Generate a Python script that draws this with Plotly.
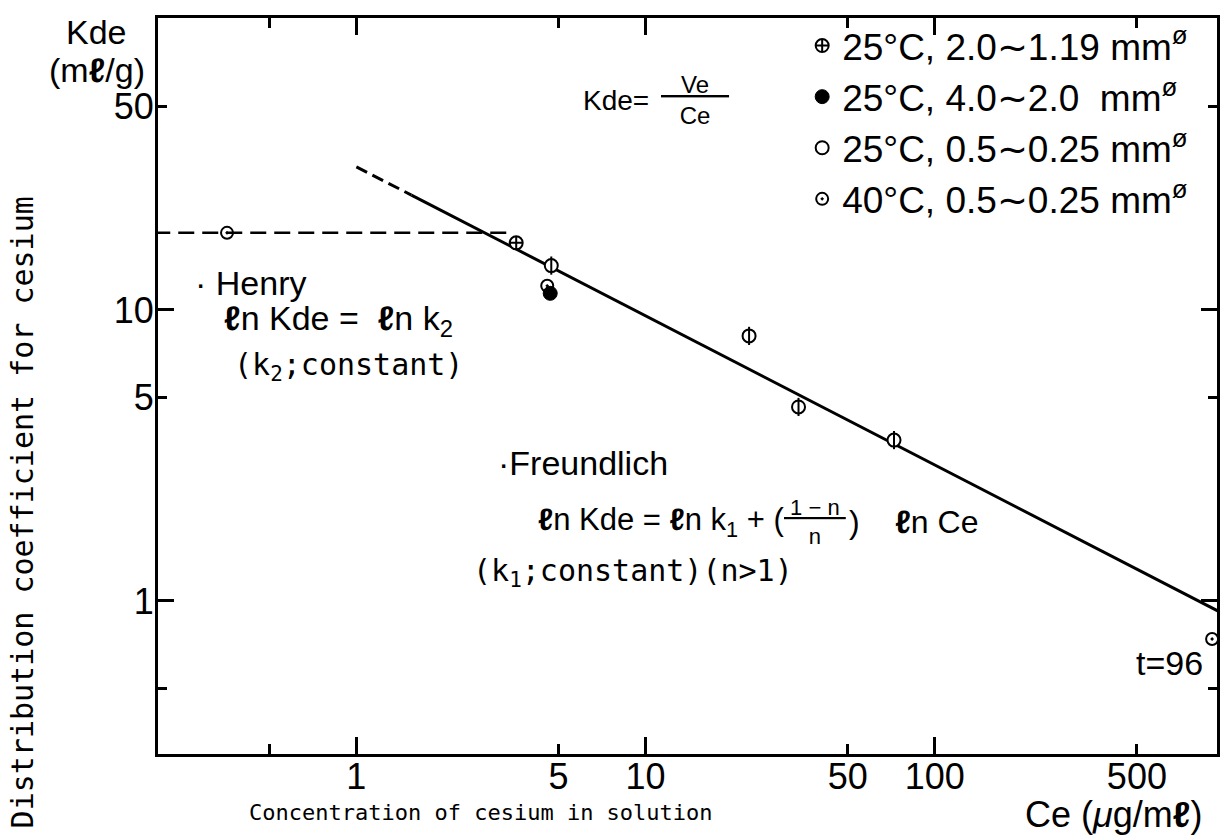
import plotly.graph_objects as go

# ---------------- data ----------------
ce_25_coarse = [3.57]            # 25°C, 2.0~1.19 mm
kde_25_coarse = [17.0]
ce_25_large = [4.68]             # 25°C, 4.0~2.0 mm
kde_25_large = [11.4]
ce_25_fine = [4.72, 22.8, 33.8, 72.3]   # 25°C, 0.5~0.25 mm
kde_25_fine = [14.2, 8.14, 4.64, 3.57]
ce_40_fine = [0.357, 4.57, 910]  # 40°C, 0.5~0.25 mm
kde_40_fine = [18.4, 12.1, 0.74]

henry_ce = [0.2, 3.5]
henry_kde = [18.4, 18.4]
freund_dash_ce = [1.0, 1.55]
freund_dash_kde = [31.0, 24.8]
freund_ce = [1.55, 960]
freund_kde = [24.8, 0.92]

x_tickvals = [0.5, 1, 5, 10, 50, 100, 500]
x_ticktext = ["", "1", "5", "10", "50", "100", "500"]
x_major = [1, 10, 100]
y_tickvals = [0.5, 1, 5, 10, 50]
y_ticktext = ["", "1", "5", "10", "50"]
y_major = [1, 10, 100]

series_names = [
    "25°C, 2.0∼1.19 mm<sup>ø</sup>",
    "25°C, 4.0∼2.0  mm<sup>ø</sup>",
    "25°C, 0.5∼0.25 mm<sup>ø</sup>",
    "40°C, 0.5∼0.25 mm<sup>ø</sup>",
]

# ---------------- layout geometry ----------------
W, H = 1230, 835
L, R, T, B = 158, 10, 18, 81
PW, PH = W - L - R, H - T - B
XR = [-0.686, 2.976]
YR = [-0.526, 2.003]


def px(x):
    return (x - L) / PW


def py(y):
    return (H - B - y) / PH


SANS = "Liberation Sans, Arial, sans-serif"
MONO = "DejaVu Sans Mono, monospace"

fig = go.Figure()

# lines
fig.add_trace(go.Scatter(x=henry_ce, y=henry_kde, mode="lines",
                         line=dict(color="black", width=2.5, dash="16px,8px"),
                         showlegend=False, hoverinfo="skip"))
fig.add_trace(go.Scatter(x=freund_dash_ce, y=freund_dash_kde, mode="lines",
                         line=dict(color="black", width=3, dash="12px,6px"),
                         showlegend=False, hoverinfo="skip"))
fig.add_trace(go.Scatter(x=freund_ce, y=freund_kde, mode="lines",
                         line=dict(color="black", width=3),
                         showlegend=False, hoverinfo="skip"))

# markers
fig.add_trace(go.Scatter(x=ce_25_coarse, y=kde_25_coarse, mode="markers",
                         name=series_names[0], legendgroup="g1",
                         marker=dict(symbol="circle-cross", size=13, color="white",
                                     line=dict(color="black", width=2))))
fig.add_trace(go.Scatter(x=ce_25_large, y=kde_25_large, mode="markers",
                         name=series_names[1], legendgroup="g2",
                         marker=dict(symbol="circle", size=14, color="black",
                                     line=dict(color="black", width=1))))
fig.add_trace(go.Scatter(x=ce_25_fine, y=kde_25_fine, mode="markers",
                         name=series_names[2], legendgroup="g3",
                         marker=dict(symbol="circle", size=13, color="white",
                                     line=dict(color="black", width=2))))
fig.add_trace(go.Scatter(x=ce_25_fine, y=kde_25_fine, mode="markers",
                         name=series_names[2], legendgroup="g3", showlegend=False,
                         marker=dict(symbol="line-ns", size=13, color="black",
                                     line=dict(color="black", width=2))))
fig.add_trace(go.Scatter(x=ce_40_fine, y=kde_40_fine, mode="markers",
                         name=series_names[3], legendgroup="g4",
                         marker=dict(symbol="circle-open-dot", size=12, color="black",
                                     line=dict(color="black", width=2))))

# empty traces to carry the overlay axes (long decade ticks)
fig.add_trace(go.Scatter(x=[], y=[], xaxis="x2", yaxis="y", showlegend=False))
fig.add_trace(go.Scatter(x=[], y=[], xaxis="x", yaxis="y2", showlegend=False))

axis_common = dict(type="log", showgrid=False, zeroline=False, ticks="inside",
                   tickcolor="black", tickwidth=2.5, color="black")

fig.update_layout(
    width=W, height=H,
    margin=dict(l=L, r=R, t=T, b=B),
    paper_bgcolor="white", plot_bgcolor="white",
    font=dict(family=SANS, color="black", size=34),
    xaxis=dict(range=XR, tickmode="array", tickvals=x_tickvals, ticktext=x_ticktext,
               ticklen=10, showline=True, linecolor="black", linewidth=3, mirror="ticks",
               ticklabelstandoff=-11,
               tickfont=dict(family=SANS, size=36, color="black"), **axis_common),
    yaxis=dict(range=YR, tickmode="array", tickvals=y_tickvals, ticktext=y_ticktext,
               ticklen=9, showline=True, linecolor="black", linewidth=3, mirror="ticks",
               ticklabelstandoff=-6,
               tickfont=dict(family=SANS, size=36, color="black"), **axis_common),
    xaxis2=dict(range=XR, overlaying="x", anchor="y", side="bottom", tickmode="array",
                tickvals=x_major, ticklen=17, showticklabels=False, showline=False,
                mirror="ticks", **axis_common),
    yaxis2=dict(range=YR, overlaying="y", anchor="x", side="left", tickmode="array",
                tickvals=y_major, ticklen=16, showticklabels=False, showline=False,
                mirror="ticks", **axis_common),
    showlegend=True,
    legend=dict(x=px(804), y=py(15), xanchor="left", yanchor="top",
                bgcolor="rgba(0,0,0,0)", borderwidth=0, traceorder="grouped",
                tracegroupgap=0, font=dict(family=SANS, size=37, color="black"),
                itemsizing="trace"),
)

U = "<span style='text-decoration:underline'>"
ann = []


def add(text, x, y, xanchor="left", yanchor="middle", size=34, family=SANS, angle=0):
    ann.append(dict(text=text, x=px(x), y=py(y), xref="paper", yref="paper",
                    xanchor=xanchor, yanchor=yanchor, showarrow=False, textangle=angle,
                    font=dict(family=family, size=size, color="black")))


add("Kde", 96, 32, xanchor="center", size=34)
add("(m<b>ℓ</b>/g)", 97, 70, xanchor="center", size=34)
add("Distribution coefficient for cesium", 22, 512, xanchor="center", size=30,
    family=MONO, angle=-90)
add("Concentration of cesium in solution", 482, 812, xanchor="center", size=22, family=MONO)
add("Ce (<i>μ</i>g/m<b>ℓ</b>)", 1116, 814, xanchor="center", size=36)

add("Kde=", 652, 100, xanchor="right", size=28)
add(U + "&nbsp;&nbsp;&nbsp;Ve&nbsp;&nbsp;&nbsp;</span><br>Ce", 697, 100,
    xanchor="center", size=24)

add("· Henry", 193, 283, size=34)
add("<b>ℓ</b>n Kde =  <b>ℓ</b>n k<sub>2</sub>", 222, 320, size=34)
add("(k<sub>2</sub>;constant)", 232, 366, size=30, family=MONO)

add("·Freundlich", 497, 463, size=34)
add("<b>ℓ</b>n Kde = <b>ℓ</b>n k<sub>1</sub> + (", 788, 522, xanchor="right", size=31)
add(U + "&nbsp;1 − n&nbsp;</span><br>n", 817, 522, xanchor="center", size=22)
add(")&nbsp;&nbsp;&nbsp; <b>ℓ</b>n Ce", 849, 522, size=32)
add("(k<sub>1</sub>;constant)(n>1)", 472, 572, size=30, family=MONO)

add("t=96", 1208, 663, xanchor="right", size=34)

fig.update_layout(annotations=ann)

fig.write_html("out.html")
